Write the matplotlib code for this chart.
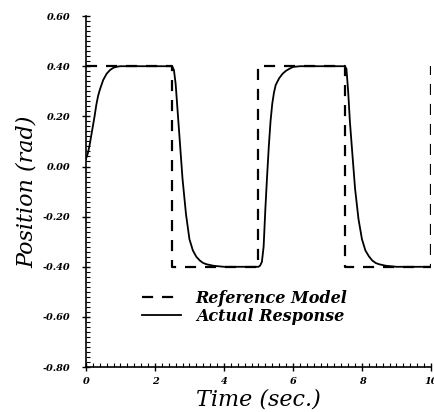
import matplotlib
matplotlib.use("Agg")
import matplotlib.pyplot as plt
from matplotlib.ticker import MultipleLocator, FormatStrFormatter

# Reference model: square wave (step times and levels)
ref_t = [0.0, 2.5, 2.5, 5.0, 5.0, 7.5, 7.5, 10.0, 10.0]
ref_y = [0.4, 0.4, -0.4, -0.4, 0.4, 0.4, -0.4, -0.4, 0.4]

# Actual response
act_t = [0.0, 0.05, 0.1, 0.15, 0.2, 0.25, 0.3, 0.35, 0.4, 0.5, 0.6, 0.7, 0.8, 0.9, 1.0,
         2.5, 2.55, 2.6, 2.65, 2.7, 2.8, 2.9, 3.0, 3.1, 3.2, 3.3, 3.4, 3.5, 3.7, 4.0,
         5.0, 5.05, 5.1, 5.15, 5.2, 5.25, 5.3, 5.35, 5.4, 5.45, 5.5, 5.6, 5.7, 5.8, 5.9, 6.0, 6.2,
         7.5, 7.55, 7.6, 7.65, 7.7, 7.8, 7.9, 8.0, 8.1, 8.2, 8.3, 8.4, 8.5, 8.7, 9.0, 10.0]
act_y = [0.03, 0.05, 0.08, 0.12, 0.16, 0.20, 0.245, 0.28, 0.305, 0.345, 0.37, 0.385, 0.394, 0.398, 0.40,
         0.40, 0.385, 0.33, 0.235, 0.14, -0.05, -0.19, -0.29, -0.335, -0.36, -0.375, -0.385, -0.39, -0.396, -0.40,
         -0.40, -0.395, -0.38, -0.32, -0.17, -0.04, 0.08, 0.18, 0.25, 0.295, 0.325, 0.352, 0.37, 0.382, 0.39, 0.397, 0.40,
         0.40, 0.39, 0.30, 0.18, 0.09, -0.088, -0.21, -0.29, -0.335, -0.358, -0.375, -0.385, -0.39, -0.396, -0.40, -0.40]

x_ticks = [0, 2, 4, 6, 8, 10]
y_ticks = [-0.8, -0.6, -0.4, -0.2, 0.0, 0.2, 0.4, 0.6]

fig = plt.figure(figsize=(4.34, 4.12), dpi=100)
ax = fig.add_axes([0.198, 0.109, 0.795, 0.852])

ax.plot(ref_t, ref_y, color="black", lw=1.6, linestyle=(0, (5, 4)), label="Reference Model")
ax.plot(act_t, act_y, color="black", lw=1.3, label="Actual Response")

ax.set_xlim(0, 10)
ax.set_ylim(-0.8, 0.6)
ax.set_xticks(x_ticks)
ax.set_yticks(y_ticks)
ax.xaxis.set_minor_locator(MultipleLocator(0.2))
ax.yaxis.set_minor_locator(MultipleLocator(0.02))
ax.yaxis.set_major_formatter(FormatStrFormatter("%.2f"))
ax.xaxis.set_major_formatter(FormatStrFormatter("%d"))

for s in ["top", "right"]:
    ax.spines[s].set_visible(False)
for s in ["left", "bottom"]:
    ax.spines[s].set_linewidth(1.2)

ax.tick_params(which="major", direction="inout", length=6, width=1.0)
ax.tick_params(axis="y", which="major", pad=8)
ax.tick_params(axis="x", which="major", pad=4)
ax.tick_params(which="minor", direction="in", length=3, width=0.8)

for lab in ax.get_xticklabels() + ax.get_yticklabels():
    lab.set_fontfamily("DejaVu Serif")
    lab.set_fontstyle("italic")
    lab.set_fontweight("bold")
    lab.set_fontsize(7)

ax.set_xlabel("Time (sec.)", family="DejaVu Serif", style="italic", size=16, labelpad=2)
ax.set_ylabel("Position (rad)", family="DejaVu Serif", style="italic", size=16, labelpad=4)

leg = ax.legend(loc="center", bbox_to_anchor=(0.46, 0.17), frameon=False,
                prop=dict(family="DejaVu Serif", style="italic", weight="bold", size=11.5),
                handlelength=2.5, handletextpad=0.9, labelspacing=0.05)

fig.savefig("out.png", dpi=100)
